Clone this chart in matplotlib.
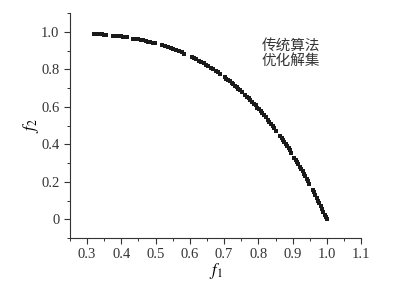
#!/usr/bin/env python3
"""Pareto front of the traditional algorithm (f1 vs f2)."""

import matplotlib
matplotlib.use("Agg")
import matplotlib.pyplot as plt
from matplotlib.ticker import MultipleLocator

# solution set
f1 = [
    0.320, 0.326, 0.332, 0.338, 0.344, 0.350, 0.356,
    0.375, 0.381, 0.387, 0.393, 0.399, 0.405, 0.411, 0.417,
    0.435, 0.442, 0.450, 0.457, 0.464, 0.471, 0.478, 0.485, 0.492, 0.499,
    0.520, 0.528, 0.536, 0.544, 0.552, 0.560, 0.568, 0.576, 0.584,
    0.605, 0.612, 0.619, 0.626, 0.633, 0.640, 0.647, 0.654, 0.661, 0.668,
    0.675, 0.682, 0.689,
    0.702, 0.707, 0.712, 0.717, 0.722, 0.727, 0.732, 0.737, 0.742, 0.747, 0.752,
    0.762, 0.767, 0.772, 0.777, 0.782, 0.787, 0.792, 0.797, 0.802, 0.807,
    0.812, 0.817, 0.822, 0.827, 0.832, 0.837, 0.842, 0.847, 0.852,
    0.864, 0.868, 0.872, 0.876, 0.880, 0.884, 0.888, 0.892, 0.896,
    0.905, 0.909, 0.913, 0.917, 0.921, 0.925, 0.929, 0.933, 0.937, 0.941, 0.945, 0.949,
    0.958, 0.962, 0.966, 0.970, 0.974, 0.978, 0.982, 0.986, 0.990, 0.994, 0.997, 1.000,
]
f2 = [
    0.990, 0.989, 0.988, 0.987, 0.986, 0.985, 0.984,
    0.980, 0.979, 0.977, 0.976, 0.975, 0.973, 0.971, 0.970,
    0.964, 0.962, 0.959, 0.956, 0.954, 0.951, 0.948, 0.945, 0.941, 0.938,
    0.927, 0.922, 0.917, 0.912, 0.907, 0.902, 0.896, 0.890, 0.884,
    0.866, 0.860, 0.853, 0.846, 0.839, 0.832, 0.825, 0.817, 0.809, 0.801,
    0.792, 0.784, 0.775,
    0.757, 0.750, 0.743, 0.736, 0.728, 0.721, 0.713, 0.705, 0.697, 0.689, 0.680,
    0.663, 0.654, 0.645, 0.636, 0.626, 0.616, 0.607, 0.596, 0.586, 0.576,
    0.565, 0.554, 0.543, 0.532, 0.521, 0.509, 0.497, 0.485, 0.473,
    0.443, 0.432, 0.422, 0.411, 0.400, 0.389, 0.378, 0.367, 0.356,
    0.329, 0.317, 0.305, 0.293, 0.280, 0.268, 0.255, 0.242, 0.229, 0.216, 0.202, 0.189,
    0.158, 0.144, 0.129, 0.115, 0.100, 0.085, 0.070, 0.055, 0.039, 0.024, 0.012, 0.000,
]
x_ticks = [0.3, 0.4, 0.5, 0.6, 0.7, 0.8, 0.9, 1.0, 1.1]
x_labels = ["0.3", "0.4", "0.5", "0.6", "0.7", "0.8", "0.9", "1.0", "1.1"]
y_ticks = [0, 0.2, 0.4, 0.6, 0.8, 1.0]
y_labels = ["0", "0.2", "0.4", "0.6", "0.8", "1.0"]

plt.rcParams["font.family"] = ["Liberation Serif", "Noto Sans CJK SC"]
plt.rcParams["mathtext.fontset"] = "stix"

fig = plt.figure(figsize=(4.04, 2.84), dpi=100)
ax = fig.add_axes([0.173, 0.162, 0.721, 0.792])
ax.plot(f1, f2, linestyle="none", marker="s", markersize=2.4,
        color="#1a1a1a", markeredgewidth=0)

ax.set_xlim(0.25, 1.1)
ax.set_ylim(-0.1, 1.1)
ax.set_xticks(x_ticks, x_labels)
ax.set_yticks(y_ticks, y_labels)
ax.xaxis.set_minor_locator(MultipleLocator(0.05))
ax.yaxis.set_minor_locator(MultipleLocator(0.1))
ax.tick_params(which="major", direction="out", length=4, width=0.8,
               labelsize=10.5, colors="#333333")
ax.tick_params(which="minor", direction="out", length=2, width=0.7,
               colors="#333333")
for side in ("top", "right"):
    ax.spines[side].set_visible(False)
for side in ("left", "bottom"):
    ax.spines[side].set_color("#333333")
    ax.spines[side].set_linewidth(0.8)

ax.set_xlabel("$f_1$", fontsize=12, labelpad=0)
ax.set_ylabel("$f_2$", fontsize=12, labelpad=0)
ax.text(0.81, 0.885, "传统算法\n优化解集", fontsize=10.5,
        family=["Noto Sans CJK SC", "DejaVu Sans"], color="#333333",
        va="center", ha="left", linespacing=1.1)

fig.savefig("out.png", dpi=100)
